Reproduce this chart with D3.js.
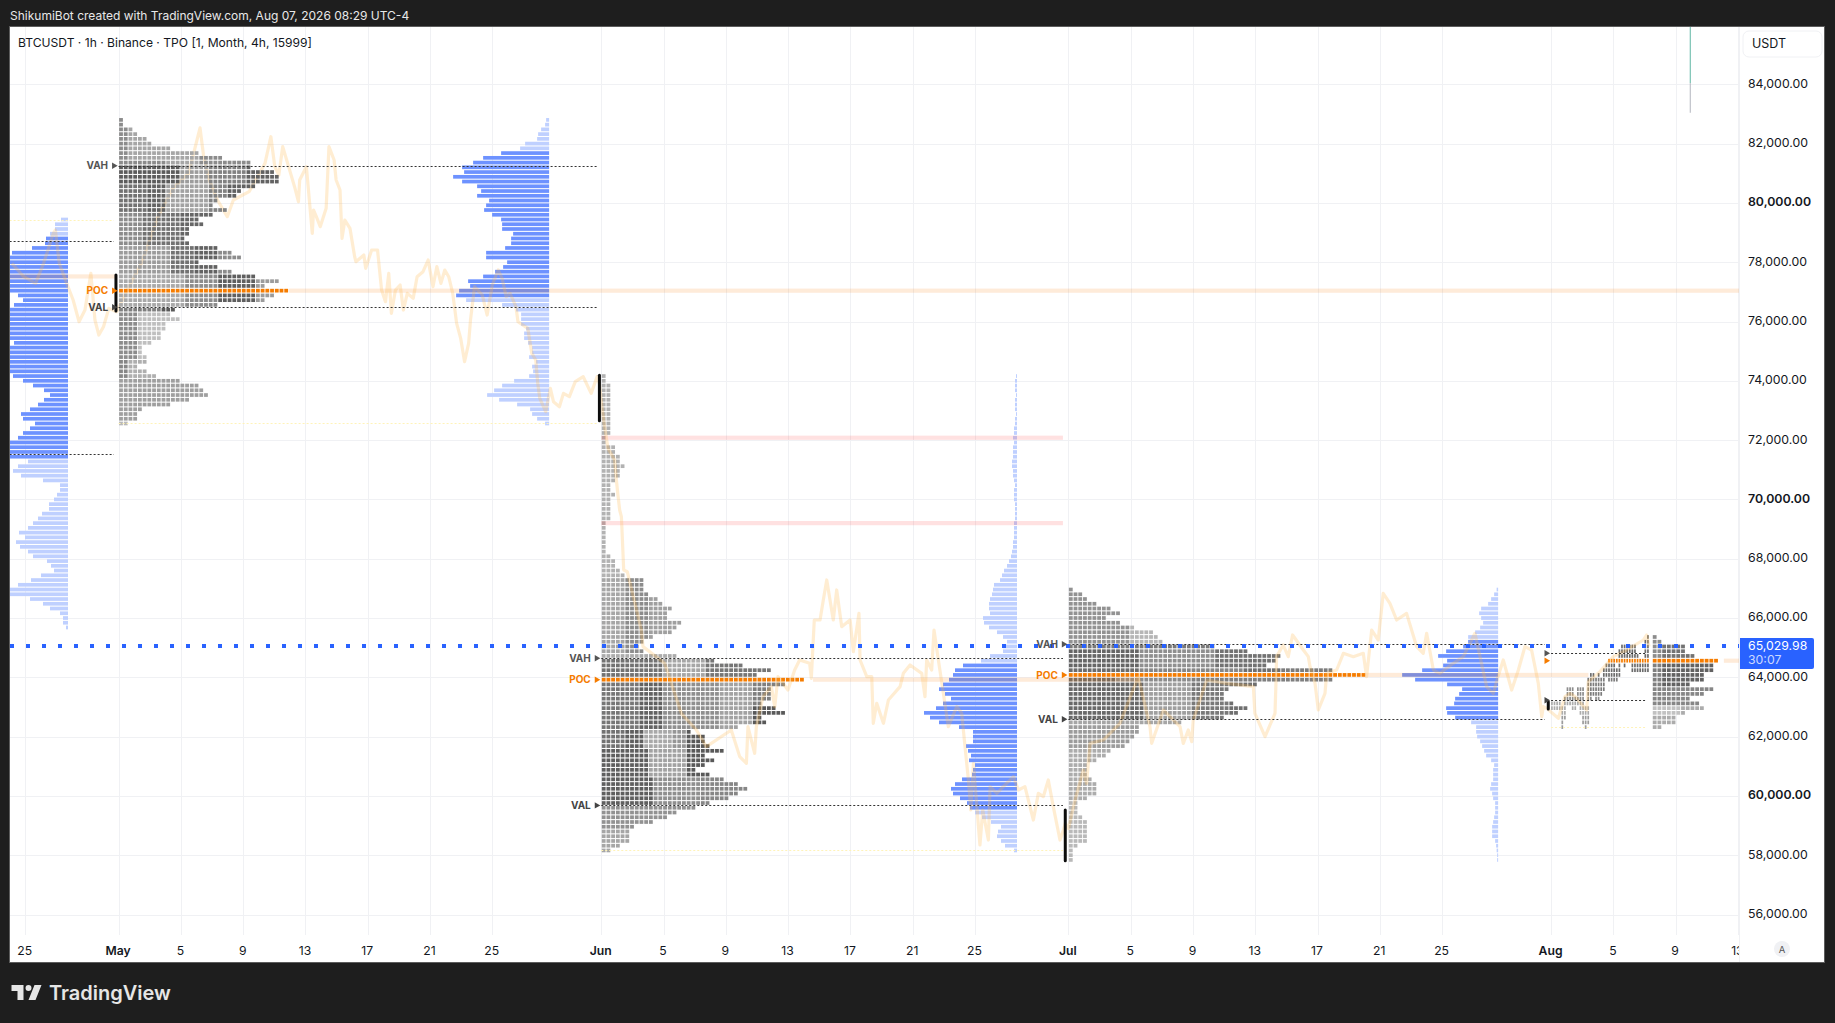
<!DOCTYPE html>
<html><head><meta charset="utf-8">
<script src="https://cdn.jsdelivr.net/npm/d3@7/dist/d3.min.js"></script>
<style>
html,body{margin:0;padding:0;background:#1e1e1e;overflow:hidden}
svg{display:block;font-family:Inter,"Noto Sans",sans-serif}
</style></head><body><div id="chart"></div>
<script>
// ---- DATA ----
const headline = "ShikumiBot created with TradingView.com, Aug 07, 2026 08:29 UTC-4";
const legendText = "BTCUSDT · 1h · Binance · TPO [1, Month, 4h, 15999]";
const priceTicks = [84000,82000,80000,78000,76000,74000,72000,70000,68000,66000,64000,62000,60000,58000,56000];
const majorPrices = [80000,70000,60000];
// days counted from 1 May 2026
const dateTicks = [-6,0,4,8,12,16,20,24,31,35,39,43,47,51,55,61,65,69,73,77,81,85,92,96,100,104];
const rowStep = 160;
const lastPrice = 65029.98, countdown = "30:07";

// TPO counts per price row, from the top row down
const mayTop = 82800;
const mayRows = [1,1,3,4,6,7,11,17,22,28,28,33,34,34,29,26,25,21,20,23,20,17,18,15,15,14,15,21,24,26,17,21,24,29,34,31,36,33,31,21,12,11,13,10,10,9,9,7,5,5,6,6,4,6,8,13,17,18,19,15,11,5,4,4,2];
const junTop = 74160;
const junRows = [1,1,2,2,2,2,2,2,2,2,2,2,2,1,1,3,3,4,4,5,4,4,3,2,2,3,2,2,2,2,2,1,1,1,1,1,1,1,2,3,3,4,5,9,9,9,10,12,13,15,14,14,17,16,15,11,9,8,9,16,24,30,36,33,43,39,36,36,36,34,37,39,34,35,29,19,22,22,23,26,22,24,22,20,23,26,29,31,29,27,23,20,16,14,11,7,6,6,6,4,2];
const julTop = 66960;
const julRows = [1,3,4,6,9,11,8,11,14,18,19,20,31,38,45,44,42,56,63,56,40,34,33,33,35,38,36,33,24,15,15,14,13,12,9,8,6,4,4,4,5,6,6,6,4,2,2,2,3,4,4,4,4,4,2,1,1,1];
const augTop = 65360;
const augRows = [1,2,7,7,9,14,13,13,11,11,8,13,11,8,10,11,7,5,5,2];
const mayPocRow = 36, junPocRow = 64, julPocRow = 18, augPocRow = 5;

// first-half-of-August TPOs, still spread over time: [row, first 4h column, last 4h column, shade]
const augSpread = [[0,37,37,3],[1,36,37,3],[2,27,32,3],[2,36,37,3],[3,26,32,3],[3,36,37,3],[4,26,33,3],[4,36,37,3],
[5,22,25,9],[5,26,35,9],[5,36,37,9],[6,21,24,3],[6,26,26,3],[6,28,28,3],[6,31,37,3],[7,20,26,3],[7,31,37,3],[8,15,16,3],[8,18,18,3],[8,20,26,3],
[9,14,20,2.5],[9,22,25,2.5],[10,14,20,2.5],[11,6,8,2],[11,10,12,2],[11,14,20,2.5],[12,6,8,2],[12,10,12,2],[12,14,19,2.5],[13,5,9,2],[13,10,12,2],[13,14,15,2],[13,17,18,2],
[14,0,3,1],[14,5,9,1],[14,10,12,1],[15,0,3,1],[15,4,5,1],[15,8,9,1],[15,11,14,1],[16,4,5,1],[16,11,14,1],[17,4,5,1.5],[17,12,14,1.5],[18,4,4,1.5],[18,12,14,1.5],[19,4,4,1.5],[19,13,13,1.5]];

// shade read per block of the profile: [first row, last row, first col, last col, shade 0-4]
const mayShades = [[0,64,0,99,2],[2,8,2,16,1.2],[7,9,10,16,1.2],
[10,13,0,12,3.5],[10,13,13,18,1.5],[10,13,19,26,2.3],[10,13,27,99,3.3],
[14,19,0,5,2.8],[14,19,6,9,3.3],[14,19,10,18,1.3],[14,19,19,99,2.3],[14,16,23,99,3.3],
[20,26,0,4,2],[20,26,5,12,2.8],[20,26,13,99,3.2],
[27,32,0,10,1.5],[27,32,11,15,2.8],[27,32,16,20,3.3],[27,32,21,99,2],
[33,39,0,13,1.1],[33,39,14,20,2],[33,39,21,28,3.4],[33,39,29,99,1.5],
[40,40,0,8,2.4],[40,40,9,16,3.6],[40,40,17,99,2],
[41,50,0,3,2],[41,50,4,99,0.4],[51,56,0,1,2.2],[51,56,2,99,0.9],[55,63,0,99,1.4],[64,64,0,99,0.6]];
const junShades = [[0,42,0,99,0.8],[43,58,0,4,1.2],[43,58,5,9,2],[43,58,10,99,1.4],[59,59,0,99,1],
[60,63,0,12,2.8],[60,63,13,21,1.2],[60,63,22,99,2.7],
[65,74,0,7,2.7],[65,74,8,12,3.3],[65,74,13,24,1.9],[65,74,25,31,1.3],[65,74,32,99,2.4],[70,74,32,99,3.6],
[75,78,0,4,2.8],[75,78,5,8,3.4],[75,78,9,14,1.1],[75,78,15,17,1.7],[75,78,18,99,3.6],
[79,84,0,9,3.4],[79,84,10,17,1.3],[79,84,18,99,3.6],
[85,90,0,10,3.4],[85,90,11,20,1.9],[85,90,21,99,2.2],[91,95,0,99,1.8],[96,100,0,99,1.2]];
const julShades = [[0,11,0,99,1.8],[8,11,13,19,0.7],[12,12,0,99,2.6],
[13,16,0,14,3.2],[13,16,15,30,1.9],[13,16,31,99,2.8],[17,17,0,14,3],[17,17,15,36,2.2],[17,17,37,44,2.9],[17,17,45,99,2.5],
[19,19,0,9,3.1],[19,19,10,25,2],[19,19,26,99,2.4],
[20,27,0,15,3.1],[20,27,16,25,1.4],[20,27,26,33,2.6],[20,27,34,99,2.9],
[28,28,0,99,1.2],[29,33,0,99,1.5],[34,44,0,99,1],[45,57,0,99,0.6]];
const augShades = [[0,4,0,99,2],[2,4,2,99,2.8],[5,10,0,1,2.4],[5,10,2,99,3.3],[11,14,0,99,2.2],[15,16,0,5,0.3],[15,16,6,99,1],[17,19,0,99,1]];

// volume per price row (right-aligned blue bars)
const aprTop = 79440;
const aprVolume = [7,13,13,18,22,23,36,56,70,70,70,70,70,70,70,70,50,45,54,70,70,70,70,70,70,70,54,70,70,70,70,70,70,55,45,35,24,18,24,30,38,47,45,33,38,45,50,70,70,70,70,40,50,55,47,25,8,8,11,14,19,19,26,30,35,40,49,43,52,48,40,35,21,17,14,27,37,50,62,62,38,25,18,8,5,5,2];
const mayVolume = [3,4,8,11,12,24,29,48,66,76,87,85,96,87,72,68,72,60,63,65,57,48,47,47,36,38,38,44,63,63,42,46,54,66,81,79,90,93,83,47,33,28,28,28,23,25,25,21,17,17,20,13,17,16,20,35,47,55,62,50,32,19,17,12,4];
const junVolume = [1,2,2,2,1,2,2,2,1,2,2,3,3,4,3,4,4,4,5,5,4,4,3,2,3,3,3,2,2,2,2,3,3,3,3,4,4,5,6,8,10,13,15,17,23,24,25,27,28,28,27,34,33,28,20,14,10,14,14,27,36,54,62,64,68,74,78,72,66,74,81,93,87,78,58,44,44,44,51,49,46,48,42,44,45,55,62,66,64,57,50,47,42,35,26,16,19,20,16,12,3];
const julVolume = [1.5,4,7,10,17,19,17,15,18,23,30,30,35,52,60,51,55,76,96,83,51,36,39,43,44,52,51,43,27,22,22,21,18,16,14,12,7,4,5,5,5,7,8,6,5,3,3,3,4,5,6,6,6,3,2,1.5,1,1];
const aprValueArea = [4,50], mayValueArea = [7,37], junValueArea = [61,91], julValueArea = [11,27];

// value-area lines: [price, from day, to day]
const aprVA = [[78705,-7,-0.3],[71520,-7,-0.3]];
const mayVA = [[81255,0,30.75],[76478,0,30.75]];
const junVA = [[64640,31,60.65],[59680,31,60.65]];
const julVA = [[65113,61,91.6],[62583,61,91.6]];
const augVA = [[64810,92,98.1],[63224,92,98.1]];
// extreme prices of a profile: [price, from day, to day]
const lowLines = [[79440,-7,-0.3],[72560,0,30.75],[58160,31,60.65],[62320,92,98.1]];
// untested POC bands: [price, from day, to day]
const pocBands = [[77520,-7,-0.1],[77040,10.95,104.1],[63920,44.6,65.6],[64080,80.1,94.4],[64560,103.1,104.1]];
// single print bands
const pinkBands = [[72080,31,60.65],[69200,31,60.65]];
// open/close bars: [day, price a, price b]
const openBars = [[-0.17,77570,76357],[30.88,74190,72650],[60.8,59525,57815],[91.82,63176,62930]];
// far-right vertical marker
const markerDay = 100.94, markerPrices = [85950,84040,83040];

// price line: day and close
const lineDays = [-6.855,-6.09,-5.33,-4.82,-4.19,-4.06,-3.81,-3.25,-2.92,-2.54,-2.16,-1.78,-1.52,-1.27,-0.97,-0.63,-0.13,0.5,1.5,2.5,3.5,4.5,5.23,5.45,5.8,6.35,6.98,7.37,8.38,9.4,9.78,10.03,10.29,10.54,10.92,11.3,11.55,11.63,12.06,12.44,12.52,12.7,12.95,13.33,13.51,13.84,13.97,14.22,14.35,14.53,14.86,15.16,15.24,15.75,15.87,16.25,16.63,16.89,17.14,17.35,17.52,17.78,18.08,18.29,18.54,18.92,19.17,19.55,19.88,20.19,20.44,20.7,20.95,21.2,21.46,21.71,21.97,22.22,22.48,22.6,22.86,23.36,23.67,24,24.38,24.63,24.89,25.14,25.52,25.65,26.28,26.54,26.79,26.92,27.05,27.43,27.73,27.93,28.31,28.57,28.95,29.33,29.84,30.35,30.73,30.88,
31.09,31.33,31.43,31.86,31.97,32.07,32.18,32.29,32.33,32.44,32.67,33.57,33.68,35.07,36.14,37.11,37.75,39.35,39.89,40.32,40.42,40.85,40.96,41.39,41.92,42.14,42.35,42.99,43.42,43.74,44.38,44.49,44.68,45.05,45.26,45.48,45.9,46.12,46.44,46.98,47.19,47.55,47.62,48.05,48.37,48.47,48.69,49.12,49.44,50.19,50.4,50.83,51.58,51.79,51.9,52.22,52.37,52.65,52.97,53.29,53.83,54.15,54.36,54.58,54.73,54.9,55.32,55.5,55.86,55.97,56.4,56.82,57.47,57.79,58.21,58.75,59.07,59.39,59.71,60.03,60.46,60.68,60.8,
61.0,61.4,61.96,62.17,62.39,63.24,64.31,65.49,66.24,66.35,67.1,68.17,68.38,68.7,68.92,69.02,69.88,71.16,72.88,72.98,73.63,74.27,74.33,74.37,74.8,75.12,75.4,76.09,76.41,76.52,76.84,77.05,77.48,77.59,78.23,78.66,79.3,79.94,80.15,80.48,80.9,81.22,81.65,82.08,82.72,83.37,83.79,84.01,84.44,84.86,85.72,86.36,87.11,87.86,88.29,88.59,88.93,89.47,89.9,90.32,90.75,91.18,91.4,91.5,91.72,92.47,92.89,93.22,93.54,94.29,94.39,95.14,96,96.86,97.93,98.14,98.29];
const linePrices = [77961,77511,77286,77961,78973,79085,77961,77174,76724,75993,76387,77624,76050,75544,75825,76443,76331,77000,78000,79500,80500,81000,82530,81615,80800,80097,79535,80097,80378,81334,82233,81222,80940,81896,81222,80547,80041,80772,81222,78973,79760,79535,79198,79816,81896,81446,80772,80434,78804,79423,79141,78186,78017,78242,77792,78411,78411,77062,76668,77624,76275,77062,77230,76387,76949,76781,77511,77680,78073,77174,77849,77286,77736,77511,76949,75937,75431,74644,75263,76050,77174,76893,76218,77230,77736,77455,76837,76949,76500,75993,75768,74925,74700,73914,73408,72958,73745,73295,73127,73577,73464,73970,74138,73577,74138,73914,
72902,72059,71722,71328,70654,70148,69642,69417,68967,67618,67562,65596,65034,64472,62785,62223,61661,62223,61324,61099,62335,61436,62335,63347,63685,63010,64022,63572,64247,64584,64472,63966,65933,65933,66607,67282,65933,66945,65708,65933,64865,66158,64584,64022,64022,62447,63122,62447,63235,63684,64134,64415,64134,63347,64584,64246,65596,64584,63459,62335,63010,62785,61660,60536,59524,61098,58344,59524,58512,60311,60086,60311,60649,60199,60311,59187,60086,59974,60536,59637,58512,58850,59075,
58900,59800,60873,60423,61773,61885,62447,64021,62335,61773,62897,62335,61773,62222,61829,62560,63909,63797,63684,62785,61998,62785,63797,64696,65089,64696,65427,64921,64696,64358,63797,62897,63459,64134,64246,64808,64696,64808,64021,65595,65258,66832,66495,65932,66157,65033,64808,65483,64246,64134,64471,64696,65483,63684,63459,64021,64583,63572,64246,65033,64921,63797,62672,63010,62953,62616,63347,63459,63347,62897,63853,64190,64696,64921,65258,65427,65033];

// ---- CHART ----
const W = 1835, H = 1023;
const pane = {l:10, t:27, r:1739, b:935};
const outer = {r:1824, b:962};
const base = Date.UTC(2026,4,1);
const toDate = d => new Date(base + d*864e5);
const x = d3.scaleUtc().domain([toDate(-6.975),toDate(104.07)]).range([pane.l,pane.r]);
const xd = d => x(toDate(d));
const y = d3.scaleLinear().domain([84000,56000]).range([84.3,914.5]);
const colX = d3.scaleLinear().domain([0,1]).range([0,4.72]);
const volX = d3.scaleLinear().domain([0,100]).range([0,100]);
const shade = d3.scaleLinear().domain([0,4]).range(["#cccccc","#4c4c4c"]);

const svg = d3.select("#chart").append("svg").attr("width",W).attr("height",H).attr("viewBox",`0 0 ${W} ${H}`);
svg.append("rect").attr("width",W).attr("height",H).attr("fill","#1e1e1e");
svg.append("rect").attr("x",pane.l-0.5).attr("y",pane.t-0.5).attr("width",outer.r-pane.l+1).attr("height",outer.b-pane.t+1).attr("fill","#fff").attr("stroke","#5c5c5c");
const defs = svg.append("defs");
defs.append("clipPath").attr("id","p").append("rect").attr("x",pane.l).attr("y",pane.t).attr("width",pane.r-pane.l).attr("height",outer.b-pane.t);

// grid
const grid = svg.append("g").attr("clip-path","url(#p)").attr("stroke","#f0f1f4").attr("stroke-width",1);
grid.selectAll(".h").data(priceTicks).join("line").attr("x1",pane.l).attr("x2",pane.r).attr("y1",d=>Math.round(y(d))+.5).attr("y2",d=>Math.round(y(d))+.5);
grid.selectAll(".v").data(dateTicks).join("line").attr("y1",pane.t).attr("y2",pane.b).attr("x1",d=>Math.round(xd(d))+.5).attr("x2",d=>Math.round(xd(d))+.5);

const plot = svg.append("g").attr("clip-path","url(#p)");

// TPO cells
function shadeOf(list,r,c){let t=2;for(const s of list){if(r>=s[0]&&r<=s[1]&&c>=s[2]&&c<=s[3])t=s[4];}return t;}
function tpoCells(rows,top,day,poc,list){
  const out=[];
  rows.forEach((n,r)=>{for(let c=0;c<n;c++)out.push({r,c,price:top-r*rowStep,day,poc:r===poc,tone:shadeOf(list,r,c)});});
  return out;
}
function drawCells(list){
  plot.append("g").selectAll("rect").data(list).join("rect")
   .attr("x",d=>xd(d.day)+0.5+colX(d.c)).attr("y",d=>y(d.price)-1.85).attr("width",3.8).attr("height",3.7)
   .attr("fill",d=>d.poc?"#f57c00":shade(d.tone));
}
drawCells([...tpoCells(junRows,junTop,31,junPocRow,junShades),...tpoCells(julRows,julTop,61,julPocRow,julShades),...tpoCells(augRows,augTop,98.5,augPocRow,augShades)]);
const spreadCells = augSpread.flatMap(d=>d3.range(d[1],d[2]+1).map(c=>({row:d[0],c,tone:d[3]})));
plot.append("g").selectAll("rect").data(spreadCells).join("rect")
 .attr("x",d=>xd(92+d.c/6)).attr("y",d=>y(augTop-d.row*rowStep)-1.85)
 .attr("width",1.7).attr("height",3.7)
 .attr("fill",d=>d.tone===9?"#f57c00":shade(d.tone));

// volume bars
function volBars(vals,top,rightDayPx,va){
  const g=plot.append("g");
  g.selectAll("rect").data(vals).join("rect")
   .attr("x",d=>rightDayPx-volX(d)).attr("width",d=>volX(d))
   .attr("y",(d,i)=>y(top-i*rowStep)-1.85).attr("height",3.7)
   .attr("fill",(d,i)=>(i>=va[0]&&i<=va[1])?"#6d92ff":"#bfd0ff");
}
volBars(aprVolume,aprTop,xd(-3.25),aprValueArea);
volBars(mayVolume,mayTop,xd(27.65),mayValueArea);
volBars(junVolume,junTop,xd(57.7),junValueArea);
volBars(julVolume,julTop,xd(88.6),julValueArea);

// bands
plot.append("g").selectAll("rect").data(pocBands).join("rect").attr("x",d=>xd(d[1])).attr("width",d=>xd(d[2])-xd(d[1])).attr("y",d=>y(d[0])-2.1).attr("height",4.2).attr("fill","#f57c00").attr("fill-opacity",.15);
plot.append("g").selectAll("rect").data(pinkBands).join("rect").attr("x",d=>xd(d[1])).attr("width",d=>xd(d[2])-xd(d[1])).attr("y",d=>y(d[0])-2.1).attr("height",4.2).attr("fill","#ff2b2b").attr("fill-opacity",.14);

// price line
const line=d3.line().x(d=>xd(d[0])).y(d=>y(d[1])).curve(d3.curveLinear);
plot.append("path").datum(d3.zip(lineDays,linePrices)).attr("d",line).attr("fill","none").attr("stroke","#ffb74d").attr("stroke-opacity",.25).attr("stroke-width",3.2).attr("stroke-linejoin","round");

// the May profile sits above the price line
drawCells(tpoCells(mayRows,mayTop,0,mayPocRow,mayShades));

// dotted lines
const dotted=[...aprVA,...mayVA,...junVA,...julVA,...augVA];
plot.append("g").selectAll("line").data(dotted).join("line").attr("x1",d=>xd(d[1])).attr("x2",d=>xd(d[2])).attr("y1",d=>Math.round(y(d[0]))+.5).attr("y2",d=>Math.round(y(d[0]))+.5).attr("stroke","#333").attr("stroke-dasharray","2 2");
plot.append("g").selectAll("line").data(lowLines).join("line").attr("x1",d=>xd(d[1])).attr("x2",d=>xd(d[2])).attr("y1",d=>Math.round(y(d[0]))+.5).attr("y2",d=>Math.round(y(d[0]))+.5).attr("stroke","#fff3b8").attr("stroke-dasharray","2 2");

// last price
plot.append("line").attr("x1",pane.l).attr("x2",pane.r).attr("y1",y(lastPrice)-.7).attr("y2",y(lastPrice)-.7).attr("stroke","#2962ff").attr("stroke-width",4).attr("stroke-dasharray","4 12");

// open/close bars
plot.append("g").selectAll("line").data(openBars).join("line").attr("x1",d=>xd(d[0])).attr("x2",d=>xd(d[0])).attr("y1",d=>y(d[1])).attr("y2",d=>y(d[2])).attr("stroke","#0d0d0d").attr("stroke-width",3).attr("stroke-linecap","round");

// marker
plot.append("line").attr("x1",xd(markerDay)).attr("x2",xd(markerDay)).attr("y1",y(markerPrices[0])).attr("y2",y(markerPrices[1])).attr("stroke","#5fb7a4");
plot.append("line").attr("x1",xd(markerDay)).attr("x2",xd(markerDay)).attr("y1",y(markerPrices[1])).attr("y2",y(markerPrices[2])).attr("stroke","#b2b5be");

// VA / POC tags
const tags=[
 ["VAH",mayVA[0][0],0,"#555"],["POC",mayTop-mayPocRow*rowStep,0,"#f57c00"],["VAL",mayVA[1][0],0,"#444"],
 ["VAH",junVA[0][0],31,"#555"],["POC",junTop-junPocRow*rowStep,31,"#f57c00"],["VAL",junVA[1][0],31,"#444"],
 ["VAH",julVA[0][0],61,"#555"],["POC",julTop-julPocRow*rowStep,61,"#f57c00"],["VAL",julVA[1][0],61,"#444"],
 ["",augVA[0][0],92,"#555"],["",augTop-augPocRow*rowStep,92,"#f57c00"],["",augVA[1][0],92,"#444"]];
const tg=svg.append("g");
tg.selectAll("path").data(tags).join("path").attr("d",d3.symbol().type(d3.symbolTriangle).size(18))
 .attr("transform",d=>`translate(${xd(d[2])-4.7},${y(d[1])}) rotate(90)`).attr("fill",d=>d[3]);
tg.selectAll("text").data(tags).join("text").attr("x",d=>xd(d[2])-10.5).attr("y",d=>y(d[1])+3.6).attr("text-anchor","end").attr("font-size",10).attr("font-weight",700).attr("fill",d=>d[3]).text(d=>d[0]);

// axes
const yAxis=svg.append("g").attr("transform",`translate(${pane.r+9},-1)`).call(d3.axisRight(y).tickValues(priceTicks).tickSize(0).tickPadding(0).tickFormat(d3.format(",.2f")));
yAxis.select(".domain").remove();
yAxis.selectAll("text").attr("font-family",'Inter,"Noto Sans",sans-serif').attr("font-size",12.3).attr("fill","#131722").attr("font-weight",d=>majorPrices.includes(d)?600:400);
svg.append("line").attr("x1",pane.r+.5).attr("x2",pane.r+.5).attr("y1",pane.t).attr("y2",outer.b).attr("stroke","#f0f1f4");
const dateFmt=d=>d.getUTCDate()===1?d3.utcFormat("%b")(d):d3.utcFormat("%-d")(d);
const xAxis=svg.append("g").attr("clip-path","url(#p)").append("g").attr("transform",`translate(-1,${pane.b+11.5})`).call(d3.axisBottom(x).tickValues(dateTicks.map(toDate)).tickSize(0).tickPadding(0).tickFormat(dateFmt));
xAxis.select(".domain").remove();
xAxis.selectAll("text").attr("font-family",'Inter,"Noto Sans",sans-serif').attr("font-size",12.2).attr("fill","#131722").attr("font-weight",d=>d.getUTCDate()===1?600:400);

// last price label
svg.append("path").attr("d","M1740 638H1812a2 2 0 0 1 2 2V667a2 2 0 0 1-2 2H1740Z").attr("fill","#2962ff");
svg.append("text").attr("x",1748).attr("y",649.5).attr("font-size",12.3).attr("fill","#fff").text(d3.format(",.2f")(lastPrice));
svg.append("text").attr("x",1748).attr("y",664).attr("font-size",12.3).attr("fill","#cbd8ff").text(countdown);

// USDT chip
svg.append("rect").attr("x",1743).attr("y",31).attr("width",79).attr("height",26).attr("rx",6).attr("fill","#fff").attr("stroke","#f0f1f4");
svg.append("text").attr("x",1752).attr("y",48).attr("font-size",12.5).attr("fill","#131722").text("USDT");

// A button
svg.append("circle").attr("cx",1782).attr("cy",949).attr("r",8).attr("fill","#f0f1f4");
svg.append("text").attr("x",1782).attr("y",952.5).attr("text-anchor","middle").attr("font-size",9.5).attr("fill","#555").text("A");

// texts
svg.append("text").attr("x",10).attr("y",20).attr("font-size",12).attr("fill","#e8e8e8").text(headline);
svg.append("text").attr("x",18).attr("y",47).attr("font-size",12.1).attr("fill","#131722").text(legendText);

// footer logo
svg.append("g").attr("transform","translate(9.5,979)").append("path").attr("fill","#e6e6e6").attr("d","M14 6H2v6h6v9h6V6Zm12 15h-7l6-15h7l-6 15Zm-7-9a3 3 0 1 0 0-6 3 3 0 0 0 0 6Z");
svg.append("text").attr("x",49).attr("y",1000).attr("font-size",20).attr("font-weight",600).attr("fill","#e6e6e6").text("TradingView");
</script></body></html>
